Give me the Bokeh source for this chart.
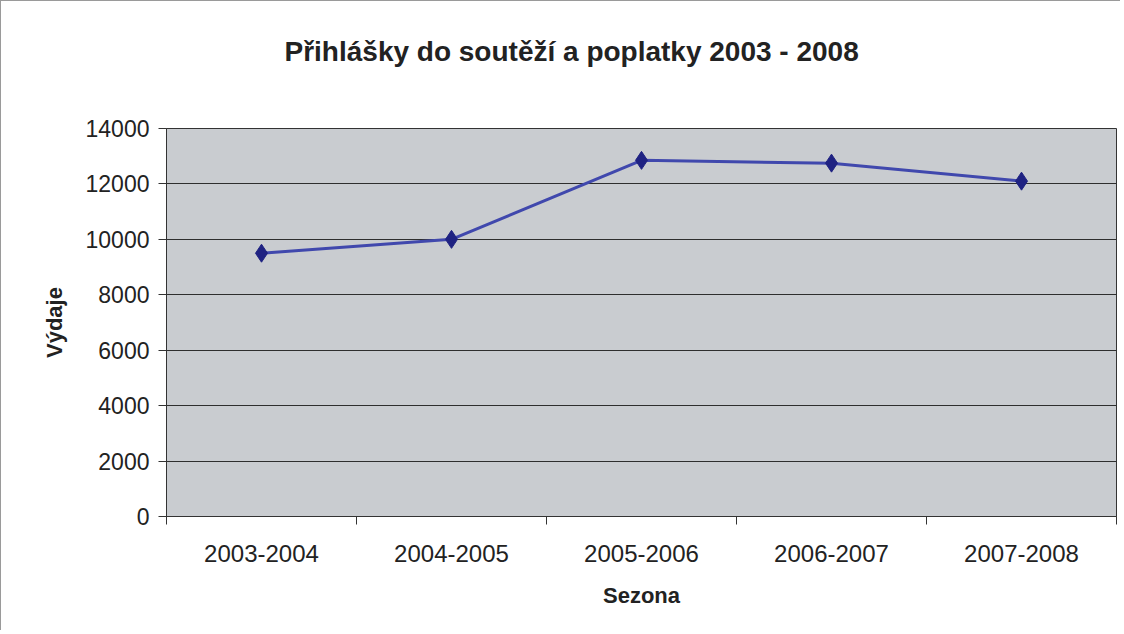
from bokeh.plotting import figure
from bokeh.models import FixedTicker, Range1d, ColumnDataSource, Title
from bokeh.embed import file_html
from bokeh.resources import INLINE

seasons = ["2003-2004", "2004-2005", "2005-2006", "2006-2007", "2007-2008"]
expenses = [9500, 10000, 12850, 12750, 12100]
y_ticks = [0, 2000, 4000, 6000, 8000, 10000, 12000, 14000]
title_text = "Přihlášky do soutěží a poplatky 2003 - 2008"

xs = [i + 0.5 for i in range(len(seasons))]
src = ColumnDataSource(dict(x=xs, y=expenses, season=seasons))

FONT = "Liberation Sans"
TXT = "#222222"

p = figure(width=1120, height=630, output_backend="svg", toolbar_location=None,
           x_range=Range1d(0, len(seasons)), y_range=Range1d(0, 14000),
           min_border_left=165, min_border_right=5, min_border_top=127, min_border_bottom=115,
           title=title_text)

p.styles = {"border-left": "1px solid #9a9a9a", "border-top": "1px solid #9a9a9a"}

# spacer between title and plot area
p.add_layout(Title(text=" ", text_font=FONT, text_font_size="20px", standoff=33), "above")

p.title.text_font = FONT
p.title.text_font_size = "28px"
p.title.text_font_style = "bold"
p.title.text_color = TXT
p.title.align = "left"
p.title.offset = 118
p.title.standoff = 10

p.background_fill_color = "#c9ccd0"
p.border_fill_color = "white"
p.outline_line_color = "#333333"
p.outline_line_width = 1

# grid
p.xgrid.grid_line_color = None
p.ygrid.ticker = FixedTicker(ticks=y_ticks)
p.ygrid.grid_line_color = "#2e2e2e"
p.ygrid.grid_line_width = 1

# y axis
ya = p.yaxis[0]
ya.ticker = FixedTicker(ticks=y_ticks)
ya.axis_label = "Výdaje"
ya.axis_label_text_font = FONT
ya.axis_label_text_font_size = "22px"
ya.axis_label_text_font_style = "bold"
ya.axis_label_text_color = TXT
ya.axis_label_standoff = 16
ya.major_label_text_font = FONT
ya.major_label_text_font_size = "23px"
ya.major_label_text_color = TXT
ya.major_label_standoff = 9
ya.major_tick_out = 8
ya.major_tick_in = 0
ya.minor_tick_line_color = None
ya.axis_line_color = "#333333"
ya.major_tick_line_color = "#333333"

# x axis
xa = p.xaxis[0]
xa.ticker = FixedTicker(ticks=xs, minor_ticks=list(range(len(seasons) + 1)))
xa.major_label_overrides = {x: s for x, s in zip(xs, seasons)}
xa.axis_label = "Sezona"
xa.axis_label_text_font = FONT
xa.axis_label_text_font_size = "22px"
xa.axis_label_text_font_style = "bold"
xa.axis_label_text_color = TXT
xa.axis_label_standoff = 18
xa.major_label_text_font = FONT
xa.major_label_text_font_size = "24px"
xa.major_label_text_color = TXT
xa.major_label_standoff = 20
xa.major_tick_out = 0
xa.major_tick_in = 0
xa.minor_tick_out = 8
xa.minor_tick_in = 0
xa.minor_tick_line_color = "#333333"
xa.axis_line_color = "#333333"

p.line("x", "y", source=src, line_color="#4048ad", line_width=3)
p.scatter("x", "y", source=src, marker="diamond", size=18,
          fill_color="#1f2282", line_color="#1f2282")

open("out.html", "w").write(file_html(p, INLINE))
